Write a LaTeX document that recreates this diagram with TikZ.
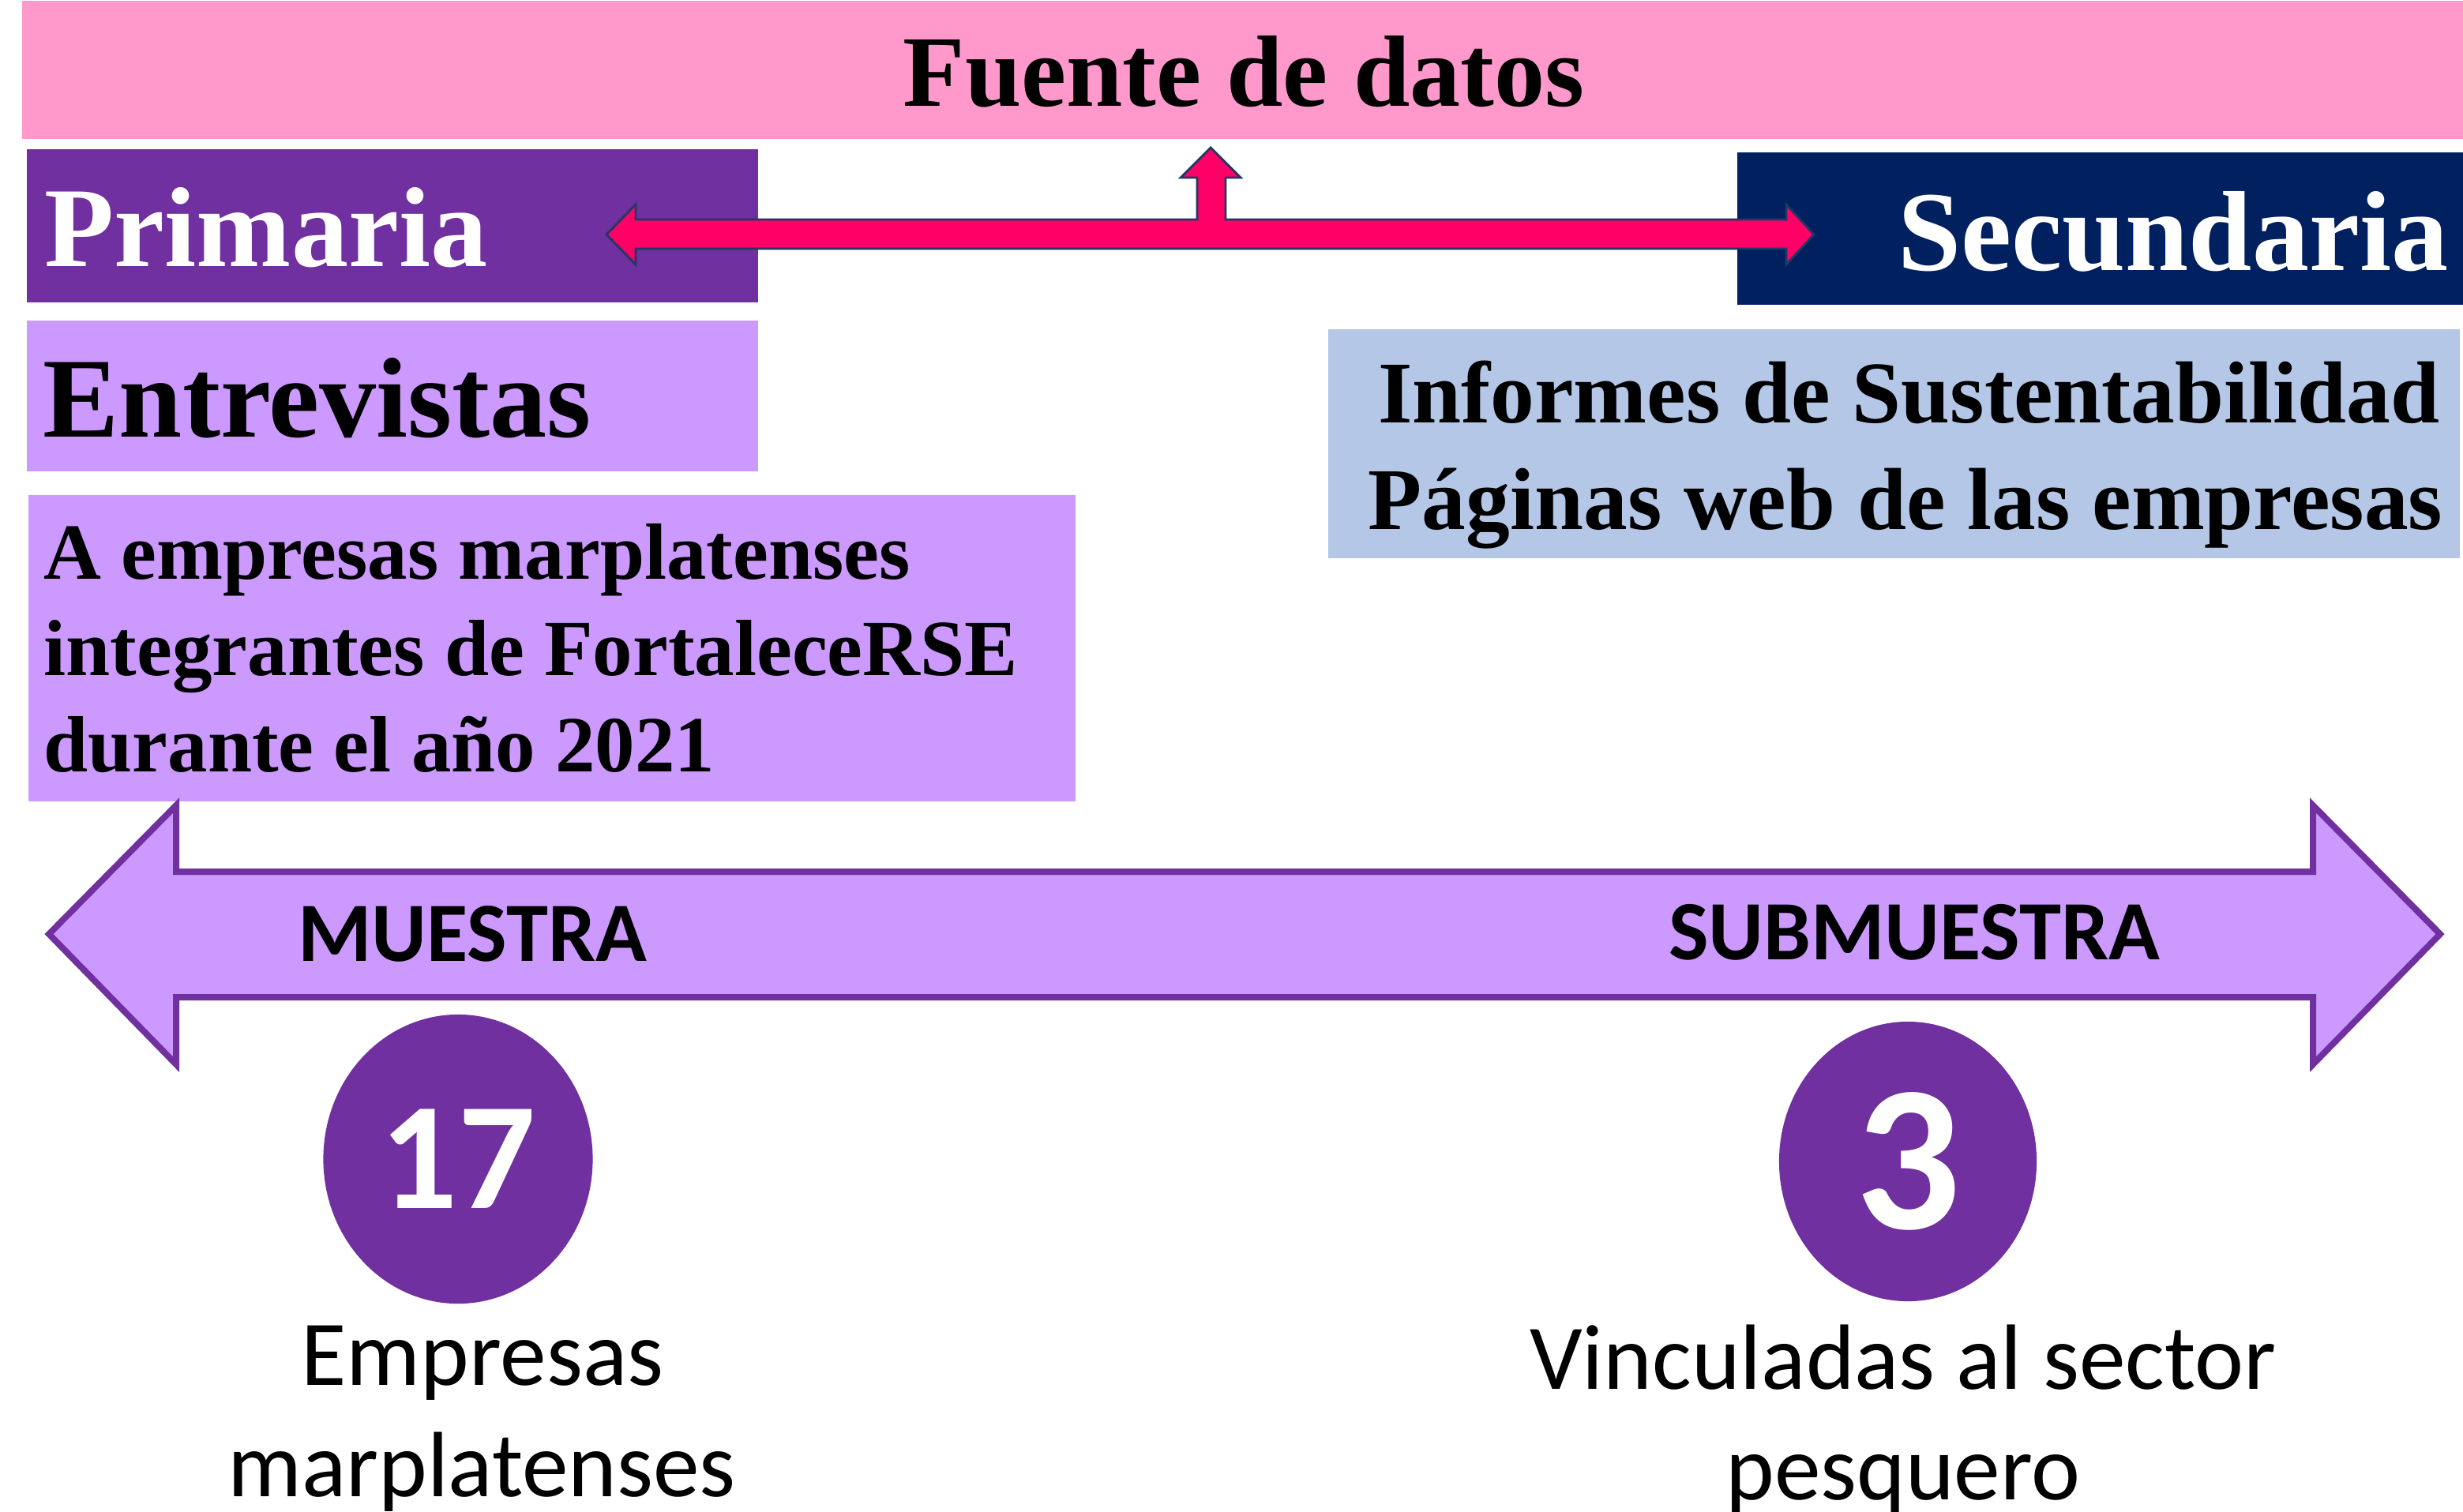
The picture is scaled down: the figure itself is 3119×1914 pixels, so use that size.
\documentclass[tikz,border=0pt]{standalone}
\usepackage{fontspec}
\setmainfont{Liberation Serif}
\newfontfamily\calibri{Carlito}
\usepackage{xcolor}
\usepackage{tikz}
\usetikzlibrary{shapes.geometric}

\definecolor{rosa}{HTML}{FF99CC}
\definecolor{morado}{HTML}{7030A0}
\definecolor{lila}{HTML}{CC99FF}
\definecolor{marino}{HTML}{002060}
\definecolor{celeste}{HTML}{B4C7E7}
\definecolor{fucsia}{HTML}{FF0066}
\definecolor{borde}{HTML}{1F3864}

\begin{document}
\begin{tikzpicture}[x=0.01cm, y=-0.01cm,
    titulo/.style={font=\bfseries\fontsize{41}{49}\selectfont, inner sep=0pt},
    texto/.style={font=\bfseries\fontsize{28.7}{35}\selectfont, inner sep=0pt},
    fuentes/.style={font=\bfseries\fontsize{31.7}{38}\selectfont, inner sep=0pt},
    etiqueta/.style={font=\calibri\bfseries\fontsize{30.4}{36}\selectfont, inner sep=0pt},
    pie/.style={font=\calibri\fontsize{33.4}{40}\selectfont, inner sep=0pt},
    numero/.style={ellipse, fill=morado, text=white, inner sep=0pt,
        font=\calibri\bfseries}]
    \useasboundingbox (0,0) rectangle (3119,1914);

    % Boxes
    \fill[rosa] (28,1) rectangle (3119,176);
    \fill[morado] (34,189) rectangle (960,383);
    \fill[marino] (2200,193) rectangle (3119,386);
    \fill[lila] (34,406) rectangle (960,597);
    \fill[celeste] (1682,417) rectangle (3115,707);
    \fill[lila] (36,627) rectangle (1362,1015);

    % Pink arrow (left, right and up)
    \draw[fill=fucsia, draw=borde, line width=0.8pt, line join=miter]
        (768,297) -- (805,259) -- (805,278) -- (1516,278) -- (1516,225)
        -- (1495,225) -- (1533,187) -- (1571,225) -- (1552,225) -- (1552,278)
        -- (2262,278) -- (2262,259) -- (2297,297) -- (2262,335) -- (2262,315)
        -- (805,315) -- (805,335) -- cycle;

    % Texts at the top
    \node[font=\bfseries\fontsize{36.5}{44}\selectfont, inner sep=0pt, anchor=base]
        (fuente) at (1575,134) {Fuente de datos};
    \node[titulo, text=white, anchor=base west] (primaria) at (56,337) {Primaria};
    \node[titulo, text=white, anchor=base east] (secundaria) at (3101,342) {Secundaria};
    \node[titulo, anchor=base west] (entrevistas) at (54,553) {Entrevistas};
    \node[fuentes, anchor=base east] (informes) at (3090,535) {Informes de Sustentabilidad};
    \node[fuentes, anchor=base east] (paginas) at (3094,670) {Páginas web de las empresas};
    \node[texto, anchor=base west] (linea1) at (55,733) {A empresas marplatenses};
    \node[texto, anchor=base west] (linea2) at (55,855) {integrantes de FortaleceRSE};
    \node[texto, anchor=base west] (linea3) at (55,977) {durante el año 2021};

    % Big double arrow
    \draw[fill=lila, draw=morado, line width=0.08cm, line join=miter]
        (62,1183) -- (223,1020) -- (223,1104) -- (2929,1104) -- (2929,1020)
        -- (3090,1183) -- (2929,1348) -- (2929,1263) -- (223,1263)
        -- (223,1348) -- cycle;
    \node[etiqueta, anchor=base] (muestra) at (598,1217) {MUESTRA};
    \node[etiqueta, anchor=base] (submuestra) at (2424,1215) {SUBMUESTRA};

    % Numbers
    \node[numero, minimum width=3.41cm, minimum height=3.66cm,
        font=\calibri\bfseries\fontsize{55}{60}\selectfont] (n17) at (580,1468) {17};
    \node[numero, minimum width=3.26cm, minimum height=3.54cm,
        font=\calibri\bfseries\fontsize{75}{80}\selectfont] (n3) at (2416,1471) {3};

    % Captions
    \node[pie, anchor=base] (empresas) at (611,1754) {Empresas};
    \node[pie, anchor=base] (marpla) at (610,1895) {marplatenses};
    \node[pie, anchor=base] (vinculadas) at (2410,1759) {Vinculadas al sector};
    \node[pie, anchor=base] (pesquero) at (2410,1899) {pesquero};
\end{tikzpicture}
\end{document}
